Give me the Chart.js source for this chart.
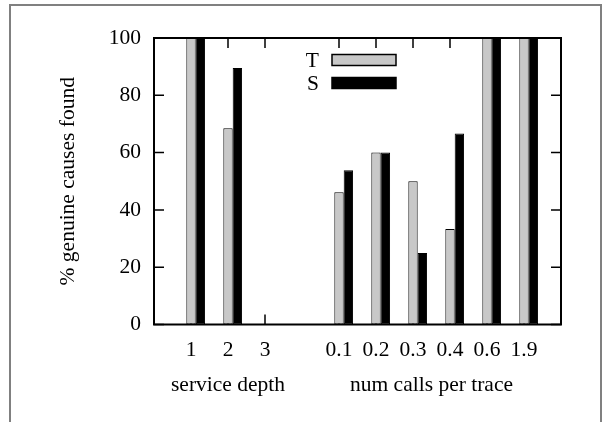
<!DOCTYPE html>
<html>
<head>
<meta charset="utf-8">
<script src="https://cdn.jsdelivr.net/npm/chart.js@4.4.0/dist/chart.umd.min.js"></script>
<style>
    html, body { margin: 0; padding: 0; background: #fff; overflow: hidden; width: 603px; height: 422px; }
    .frame { position: absolute; left: 9px; top: 4px; width: 589px; height: 440px; border: 2px solid #808080; border-bottom: none; }
    canvas { position: absolute; left: 0; top: 0; }
</style>
</head>
<body>
<div class="frame"></div>
<canvas class="chart-1" width="603" height="422"></canvas>
<script>
// slots along the x axis, empty strings are the gaps around the two groups
const categories = ['', '1', '2', '3', '', '0.1', '0.2', '0.3', '0.4', '0.6', '1.9', ''];
const seriesT = [null, 100, 68.5, 0, null, 46.2, 60, 50, 33.3, 100, 100, null];
const seriesS = [null, 100, 89.5, 0, null, 53.8, 60, 25, 66.7, 100, 100, null];
const yTicks = [0, 20, 40, 60, 80, 100];
const groupTitles = ['service depth', 'num calls per trace'];
const groupCenters = [2, 7.5];

const serif = '"Liberation Serif", "Times New Roman", serif';
const font = { family: serif, size: 21.5 };

const gnuplotBits = {
    id: 'gnuplotBits',
    beforeDatasetsDraw(chart) {
        const { ctx, chartArea: a, scales: { x, y } } = chart;
        ctx.save();
        ctx.strokeStyle = '#000';
        ctx.lineWidth = 1.5;
        ctx.beginPath();
        yTicks.forEach(v => {
            const py = y.getPixelForValue(v);
            ctx.moveTo(a.left, py); ctx.lineTo(a.left + 10, py);
            ctx.moveTo(a.right, py); ctx.lineTo(a.right - 10, py);
        });
        categories.forEach((c, i) => {
            if (!c) return;
            const px = x.getPixelForValue(i);
            ctx.moveTo(px, a.bottom); ctx.lineTo(px, a.bottom - 10);
            ctx.moveTo(px, a.top); ctx.lineTo(px, a.top + 10);
        });
        ctx.stroke();
        ctx.restore();
    },
    afterDatasetsDraw(chart) {
        const { ctx, chartArea: a, scales: { x } } = chart;
        ctx.save();
        ctx.strokeStyle = '#000';
        ctx.lineWidth = 2;
        ctx.strokeRect(a.left, a.top, a.right - a.left, a.bottom - a.top);

        // key, gnuplot style: label then sample box
        ctx.font = font.size + 'px ' + serif;
        ctx.textAlign = 'right';
        ctx.textBaseline = 'middle';
        let row = 0;
        chart.data.datasets.forEach(ds => {
            if (!ds.label) return;
            const cy = a.top + 22 + row * 23;
            ctx.fillStyle = '#000';
            ctx.fillText(ds.label, a.left + 165, cy + 1);
            ctx.fillStyle = ds.backgroundColor;
            ctx.fillRect(a.left + 178, cy - 5.5, 64, 11);
            ctx.lineWidth = 1.5;
            ctx.strokeRect(a.left + 178, cy - 5.5, 64, 11);
            row++;
        });

        // group titles under the tick labels
        ctx.fillStyle = '#000';
        ctx.textAlign = 'center';
        ctx.textBaseline = 'alphabetic';
        groupTitles.forEach((t, i) => {
            ctx.fillText(t, x.getPixelForValue(groupCenters[i]), a.bottom + 66);
        });
        ctx.restore();
    }
};

var ctx1 = document.querySelector('.chart-1');
const chart1 = new Chart(ctx1, {
    type: 'bar',
    data: {
        labels: categories,
        datasets: [
            {
                label: '',
                data: categories.map(() => null)
            },
            {
                label: 'T',
                data: seriesT,
                backgroundColor: '#c8c8c8',
                borderColor: '#000',
                borderWidth: 1,
                borderSkipped: false
            },
            {
                label: 'S',
                data: seriesS,
                backgroundColor: '#000',
                borderColor: '#000',
                borderWidth: 1,
                borderSkipped: false
            }
        ]
    },
    options: {
        responsive: false,
        animation: false,
        categoryPercentage: 0.76,
        barPercentage: 1,
        layout: { padding: { left: 0, top: 38, right: 42, bottom: 0 } },
        plugins: {
            legend: { display: false },
            tooltip: { enabled: false }
        },
        scales: {
            x: {
                offset: false,
                grid: { display: false, drawTicks: false },
                border: { display: false },
                ticks: { color: '#000', font: font, padding: 13, autoSkip: false, maxRotation: 0 },
                afterFit: s => { s.height = 97.5; }
            },
            y: {
                min: 0,
                max: 100,
                grid: { display: false, drawTicks: false },
                border: { display: false },
                ticks: { stepSize: 20, color: '#000', font: font, padding: 13 },
                title: {
                    display: true,
                    text: '% genuine causes found',
                    color: '#000',
                    font: font,
                    padding: { top: 55, bottom: 0 }
                },
                afterFit: s => { s.width = 154; }
            }
        }
    },
    plugins: [gnuplotBits]
});
</script>
</body>
</html>
